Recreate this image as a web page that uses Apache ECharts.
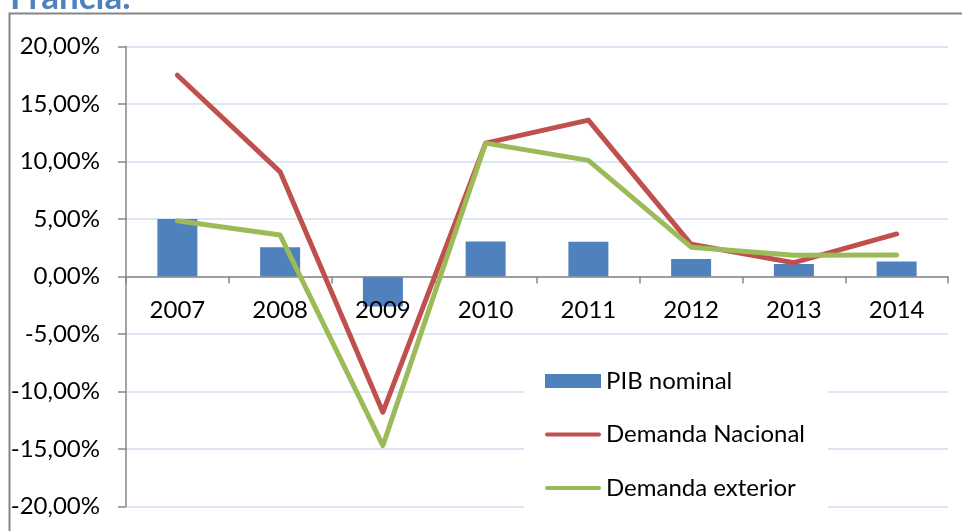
<!DOCTYPE html>
<html>
<head>
<meta charset="utf-8">
<script src="https://cdn.jsdelivr.net/npm/echarts@6/dist/echarts.min.js"></script>
<style>
  html, body { margin: 0; padding: 0; background: #fff; }
  #chart { width: 962px; height: 531px; }
</style>
</head>
<body>
<div id="chart"></div>
<script>
  // datos (en %)
  const years = ['2007', '2008', '2009', '2010', '2011', '2012', '2013', '2014'];
  const pibNominal = [5.0, 2.55, -2.6, 3.05, 3.03, 1.52, 1.08, 1.3];
  const demandaNacional = [17.5, 9.1, -11.8, 11.6, 13.6, 2.8, 1.2, 3.7];
  const demandaExterior = [4.85, 3.6, -14.7, 11.6, 10.1, 2.55, 1.85, 1.87];
  const yTicks = { min: -20, max: 20, step: 5 };

  const font = 'Lato';
  const gridTop = 46.5;
  const gridBottom = 506.5;
  // el eje X va sobre el 0: desplazamiento desde el borde inferior del grid
  const zeroOffset = -(gridBottom - gridTop) * (0 - yTicks.min) / (yTicks.max - yTicks.min);
  const lineIcon = 'path://M2,0 h52 a2,2 0 0 1 0,4 h-52 a2,2 0 0 1 0,-4 z';

  const chart = echarts.init(document.getElementById('chart'));

  const option = {
    animation: false,
    backgroundColor: '#fff',
    textStyle: { fontFamily: font },
    graphic: [
      {
        type: 'rect',
        z: 0,
        shape: { x: 9.5, y: 13.5, width: 1000, height: 600 },
        style: { fill: 'none', stroke: '#868686', lineWidth: 2 }
      },
      {
        type: 'text',
        left: 10,
        top: -20,
        style: {
          text: 'Francia.',
          fill: '#4f81bd',
          font: 'bold 35px Lato'
        }
      }
    ],
    grid: {
      left: 126,
      right: 14,
      top: gridTop,
      bottom: 531 - gridBottom,
      outerBoundsMode: 'none'
    },
    legend: {
      orient: 'vertical',
      left: 524,
      top: 359,
      padding: [10, 23, 16, 21],
      itemGap: 29.5,
      itemWidth: 56,
      itemHeight: 14,
      backgroundColor: '#fff',
      textStyle: { fontFamily: font, fontSize: 24, color: '#000' },
      data: [
        { name: 'PIB nominal', icon: 'rect' },
        { name: 'Demanda Nacional', icon: lineIcon },
        { name: 'Demanda exterior', icon: lineIcon }
      ]
    },
    xAxis: {
      type: 'category',
      data: years,
      z: 3,
      offset: zeroOffset,
      axisLine: { onZero: false, lineStyle: { color: '#868686', width: 1.5 } },
      axisTick: { show: true, length: 7, lineStyle: { color: '#868686', width: 1.5 } },
      axisLabel: { margin: 22, fontFamily: font, fontSize: 24, color: '#000' },
      splitLine: { show: false }
    },
    yAxis: {
      type: 'value',
      min: yTicks.min,
      max: yTicks.max,
      interval: yTicks.step,
      axisLine: { show: true, lineStyle: { color: '#868686', width: 1.5 } },
      axisTick: { show: true, length: 8, lineStyle: { color: '#868686', width: 1.5 } },
      axisLabel: {
        margin: 26,
        fontFamily: font,
        fontSize: 24,
        color: '#000',
        formatter: (v) => v.toFixed(2).replace('.', ',') + '%'
      },
      splitLine: { lineStyle: { color: '#dce6f4', width: 2 } }
    },
    series: [
      {
        name: 'PIB nominal',
        type: 'bar',
        z: 1,
        barWidth: 40,
        data: pibNominal,
        itemStyle: { color: '#4f81bd' }
      },
      {
        name: 'Demanda Nacional',
        type: 'line',
        z: 4,
        symbol: 'none',
        data: demandaNacional,
        itemStyle: { color: '#c0504d' },
        lineStyle: { color: '#c0504d', width: 5, cap: 'round', join: 'round' }
      },
      {
        name: 'Demanda exterior',
        type: 'line',
        z: 5,
        symbol: 'none',
        data: demandaExterior,
        itemStyle: { color: '#9bbb59' },
        lineStyle: { color: '#9bbb59', width: 5, cap: 'round', join: 'round' }
      }
    ]
  };

  chart.setOption(option);
</script>
</body>
</html>
